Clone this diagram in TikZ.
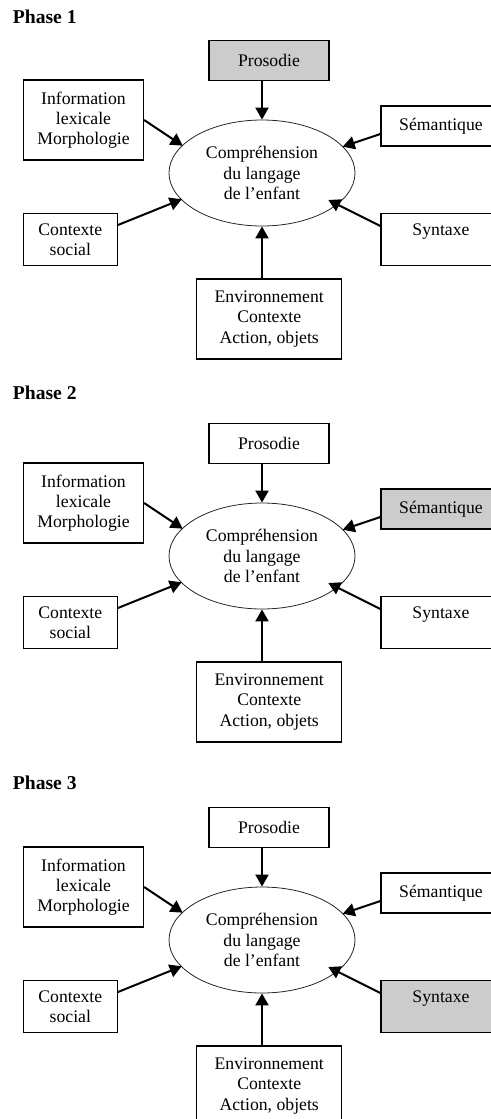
\documentclass[tikz,border=0pt]{standalone}
\usepackage{fontspec}
\setmainfont{Liberation Serif}
\usetikzlibrary{shapes.geometric,arrows.meta}
\definecolor{grisfond}{gray}{0.8}

\begin{document}
\begin{tikzpicture}[x=1pt,y=-1pt,
case/.style={draw,line width=1.3pt,inner sep=0pt,align=center,font=\fontsize{17.7}{20.3}\selectfont},
bulle/.style={ellipse,draw=black!85,line width=0.8pt,inner sep=0pt,minimum width=186pt,minimum height=106pt,align=center,font=\fontsize{17.7}{20.3}\selectfont},
fleche/.style={line width=2pt,-{Triangle[length=12pt,width=13pt]}},
titre/.style={anchor=base west,inner sep=0pt,font=\fontsize{19.6}{22}\selectfont\bfseries}]

\useasboundingbox (0,0) rectangle (490,1119);

\foreach \n/\dy/\ty/\fpro/\fsem/\fsyn in {1/0/23.3/grisfond/white/white,
    2/383/16.3/white/grisfond/white,
    3/767/22.3/white/white/grisfond}
{
\begin{scope}[yshift=-\dy pt]

\node[titre] (titre\n) at (12.7,\ty) {Phase \n};

\node[case,fill=\fpro,minimum width=120pt,minimum height=40pt] (pro\n) at (269,60.5) {Prosodie};
\node[case,minimum width=120pt,minimum height=80pt] (lex\n) at (83.5,120) {Information\\lexicale\\Morphologie};
\node[case,fill=\fsem,minimum width=120pt,minimum height=40pt] (sem\n) at (441,126) {Sémantique};
\node[bulle] (comp\n) at (262,173) {Compréhension\\du langage\\de l’enfant};
\node[case,minimum width=94pt,minimum height=52.4pt] (soc\n) at (70.3,239.5) {Contexte\\social};
\node[case,fill=\fsyn,minimum width=120pt,minimum height=52.4pt] (syn\n) at (441,239.5) {Syntaxe\\~};
\node[case,minimum width=145pt,minimum height=80pt] (env\n) at (269.2,319) {Environnement\\Contexte\\Action, objets};

% fleches vers la bulle
\draw[fleche] (pro\n.south -| comp\n.north) -- (comp\n.north);
\draw[fleche] (lex\n.east) -- ([shift={(-79.3,-27.3)}]comp\n.center);
\draw[fleche] ([yshift=-8pt]sem\n.west) -- ([shift={(80.7,-26.3)}]comp\n.center);
\draw[fleche] ([yshift=14.5pt]soc\n.east) -- ([shift={(-80.3,26.3)}]comp\n.center);
\draw[fleche] ([yshift=13.5pt]syn\n.west) -- ([shift={(66.3,27)}]comp\n.center);
\draw[fleche] (env\n.north -| comp\n.south) -- (comp\n.south);

\end{scope}
}
\end{tikzpicture}
\end{document}
